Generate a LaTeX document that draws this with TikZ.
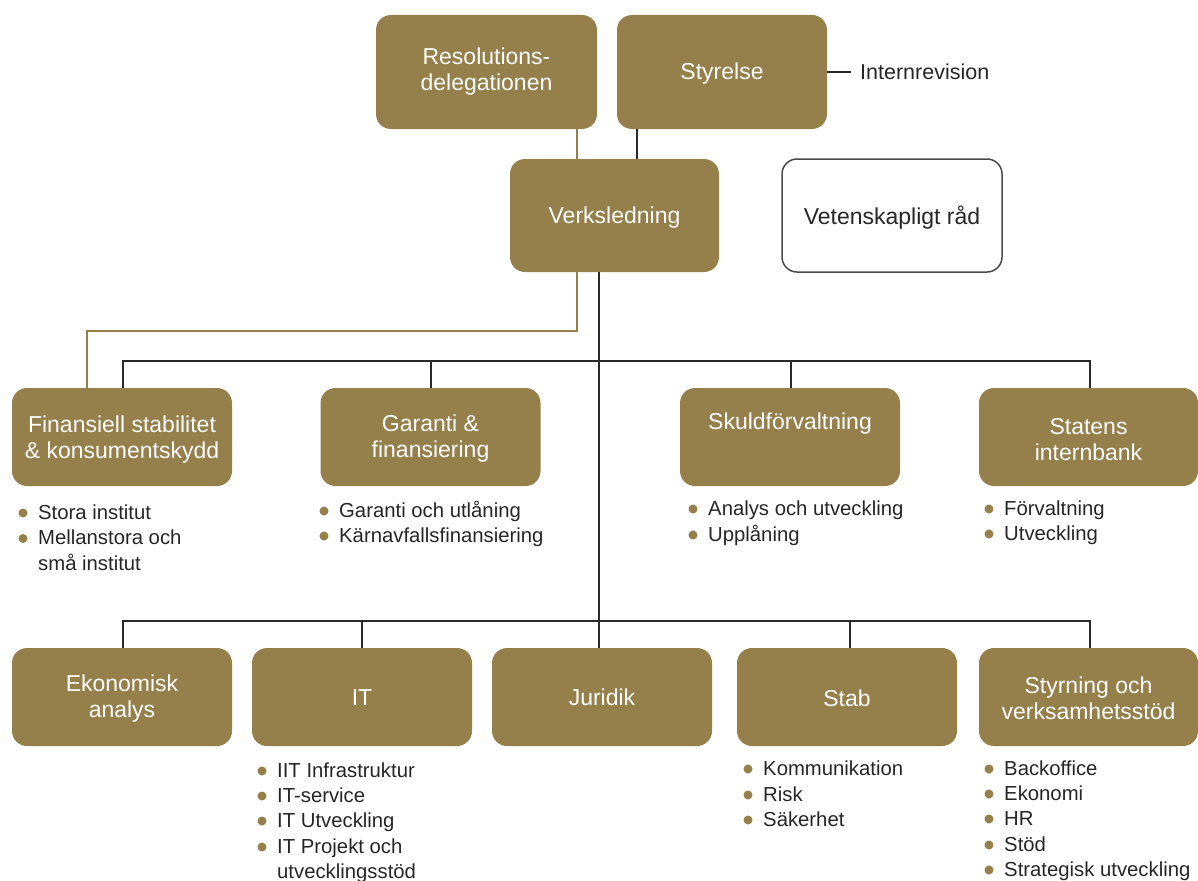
\documentclass[tikz,border=0pt]{standalone}
\usepackage{fontspec}
\setmainfont{Liberation Sans}
\definecolor{gold}{HTML}{957F4A}
\definecolor{ink}{HTML}{262626}
\definecolor{ln}{HTML}{2A2A2A}
\definecolor{frame}{HTML}{4A4A4A}
\newcommand{\bulitem}[4]{%
  \fill[gold] (#2-15,#3-6) circle (4.5pt);
  \node[item] (#1) at (#2,#3) {#4};}
\newcommand{\contitem}[4]{\node[item] (#1) at (#2,#3) {#4};}
% name, x, y, width, height, text drop (pt), text
\newcommand{\gbox}[7]{%
  \node[box, minimum width=#4pt, minimum height=#5pt] (#1) at (#2,#3) {};
  \node[boxtext] (#1-t) at ([yshift=-#6pt]#1.center) {#7};}
\begin{document}
\begin{tikzpicture}[x=1pt,y=-1pt,
  box/.style={fill=gold, rounded corners=15pt, inner sep=0pt},
  boxtext/.style={text=white, align=center, font=\fontsize{23}{26}\selectfont, inner sep=0pt},
  item/.style={anchor=base west, inner sep=0pt, text=ink, font=\fontsize{20.3}{25}\selectfont},
  blk/.style={draw=ln, line width=1.8pt},
  goldline/.style={draw=gold, line width=1.8pt}]
\useasboundingbox (0,0) rectangle (1198,880);

% top
\gbox{res}{486.5}{72}{221}{114}{0}{Resolutions-\\delegationen}
\gbox{styr}{722}{72}{210}{114}{2}{Styrelse}
\node[anchor=west, inner xsep=9pt, inner ysep=0pt, text=ink, font=\fontsize{21.5}{25}\selectfont] (intern) at (851,72) {Internrevision};
\gbox{verk}{614.5}{215.5}{209}{113}{2}{Verksledning}
\node[box, fill=white, draw=frame, line width=1.5pt, minimum width=220pt, minimum height=113pt] (vet) at (892,215.5) {};
\node[boxtext, text=ink] (vet-t) at ([yshift=-2pt]vet.center) {Vetenskapligt råd};

% row 1
\gbox{fin}{122}{437}{220}{98}{3}{Finansiell stabilitet\\\& konsumentskydd}
\gbox{gar}{430.5}{437}{220}{98}{2}{Garanti \&\\finansiering}
\gbox{skuld}{790}{437}{220}{98}{-13}{Skuldförvaltning}
\gbox{stat}{1088.5}{437}{219}{98}{3}{Statens\\internbank}

% row 2
\gbox{eko}{122}{697}{220}{98}{2}{Ekonomisk\\analys}
\gbox{it}{362}{697}{220}{98}{1}{IT}
\gbox{jur}{602}{697}{220}{98}{0}{Juridik}
\gbox{stab}{847}{697}{220}{98}{1}{Stab}
\gbox{styrn}{1088.5}{697}{219}{98}{1}{Styrning och\\verksamhetsstöd}

% connectors
\draw[blk] (styr.east |- intern.west) -- (intern.west);
\draw[blk] ([xshift=20pt]styr.south west) -- ([xshift=127pt]verk.north west);
\draw[goldline] ([xshift=201pt]res.south west) -- ([xshift=67pt]verk.north west);
\draw[goldline] ([xshift=67pt]verk.south west) -- ++(0,59) -| ([xshift=75pt]fin.north west);
\draw[blk] ([xshift=89pt]verk.south west) -- ([xshift=107pt]jur.north west);
\draw[blk] ([xshift=1pt]fin.north) -- ++(0,-27) -| ([xshift=1.5pt]stat.north);
\draw[blk] ([xshift=0.5pt]gar.north) -- ++(0,-27);
\draw[blk] ([xshift=1pt]skuld.north) -- ++(0,-27);
\draw[blk] ([xshift=1pt]eko.north) -- ++(0,-27) -| ([xshift=1.5pt]styrn.north);
\draw[blk] (it.north) -- ++(0,-27);
\draw[blk] ([xshift=3pt]stab.north) -- ++(0,-27);

% bullet lists
\bulitem{f1}{38}{519}{Stora institut}
\bulitem{f2}{38}{544.5}{Mellanstora och}
\contitem{f3}{38}{570}{små institut}

\bulitem{g1}{339}{517}{Garanti och utlåning}
\bulitem{g2}{339}{542}{Kärnavfallsfinansiering}

\bulitem{s1}{708}{515}{Analys och utveckling}
\bulitem{s2}{708}{541}{Upplåning}

\bulitem{t1}{1004}{515}{Förvaltning}
\bulitem{t2}{1004}{540}{Utveckling}

\bulitem{i1}{277}{777}{IIT Infrastruktur}
\bulitem{i2}{277}{802}{IT-service}
\bulitem{i3}{277}{827}{IT Utveckling}
\bulitem{i4}{277}{853}{IT Projekt och}
\contitem{i5}{277}{878}{utvecklingsstöd}

\bulitem{k1}{763}{775}{Kommunikation}
\bulitem{k2}{763}{801}{Risk}
\bulitem{k3}{763}{826}{Säkerhet}

\bulitem{v1}{1004}{775}{Backoffice}
\bulitem{v2}{1004}{800}{Ekonomi}
\bulitem{v3}{1004}{825}{HR}
\bulitem{v4}{1004}{851}{Stöd}
\bulitem{v5}{1004}{876}{Strategisk utveckling}
\end{tikzpicture}
\end{document}
